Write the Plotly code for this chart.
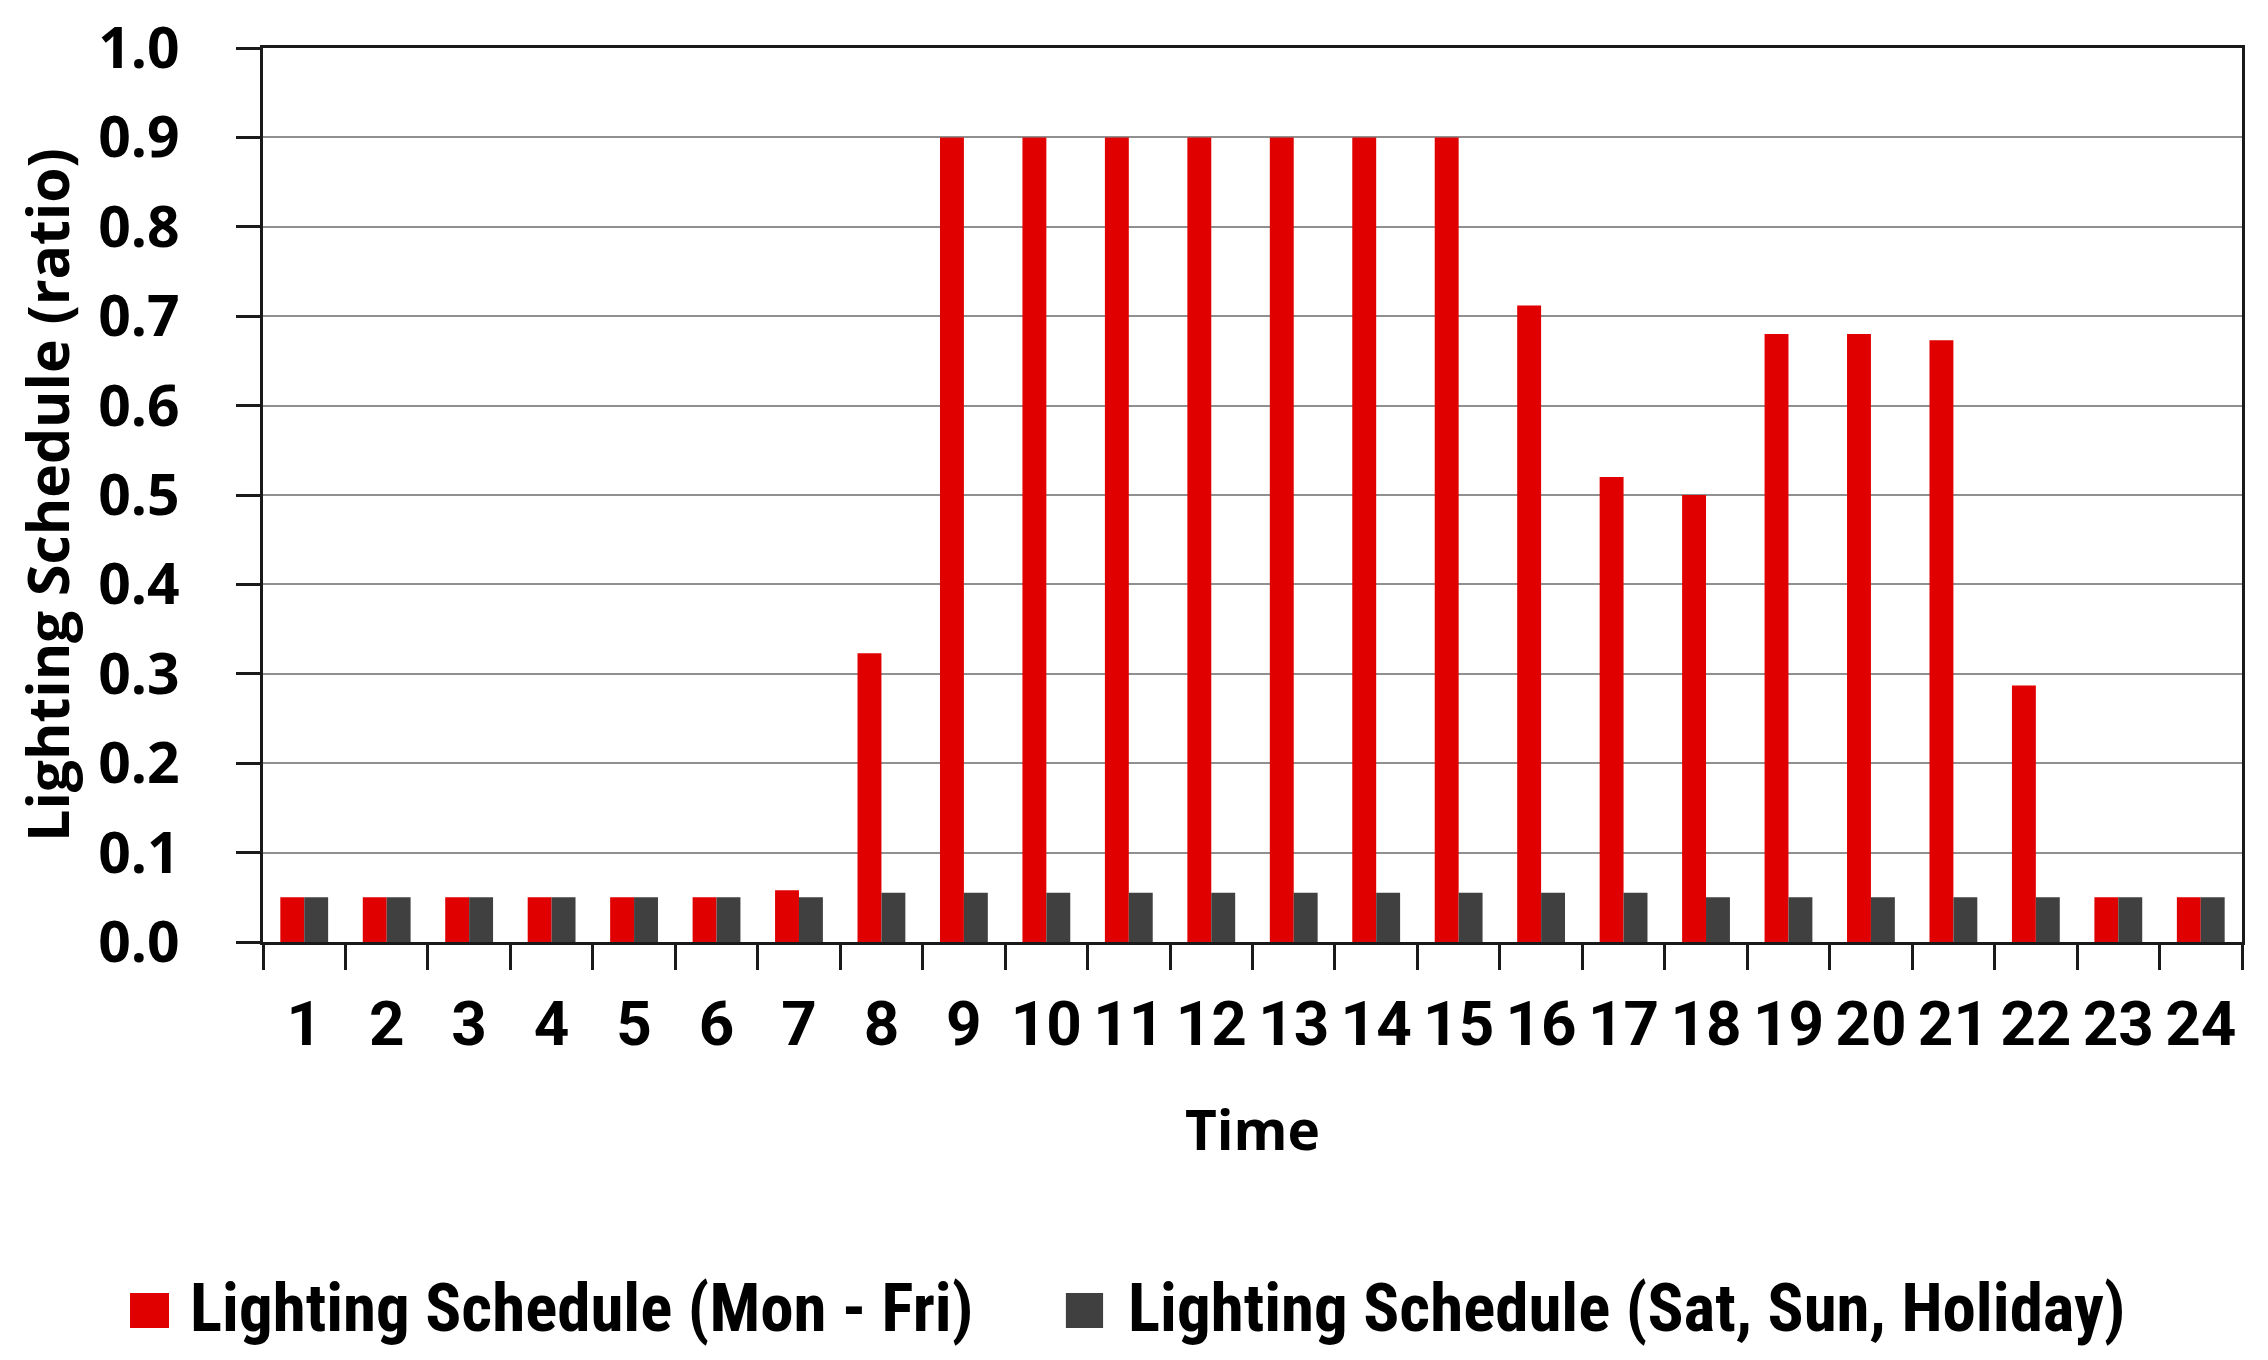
import plotly.graph_objects as go

hours = [str(h) for h in range(1, 25)]
weekday = [0.05, 0.05, 0.05, 0.05, 0.05, 0.05, 0.058, 0.323, 0.90, 0.90, 0.90, 0.90,
           0.90, 0.90, 0.90, 0.712, 0.52, 0.50, 0.68, 0.68, 0.673, 0.287, 0.05, 0.05]
weekend = [0.05, 0.05, 0.05, 0.05, 0.05, 0.05, 0.05, 0.055, 0.055, 0.055, 0.055, 0.055,
           0.055, 0.055, 0.055, 0.055, 0.055, 0.05, 0.05, 0.05, 0.05, 0.05, 0.05, 0.05]
y_ticks = [0.0, 0.1, 0.2, 0.3, 0.4, 0.5, 0.6, 0.7, 0.8, 0.9, 1.0]
y_tick_labels = [f"{v:.1f}" for v in y_ticks]

series_names = ["Lighting Schedule (Mon - Fri)", "Lighting Schedule (Sat, Sun, Holiday)"]
series_colors = ["#E00000", "#404040"]

narrow = "Roboto Condensed, Liberation Sans Narrow, Roboto, sans-serif"
roboto = "Roboto, Liberation Sans, sans-serif"
wide = "Open Sans, Noto Sans, DejaVu Sans, sans-serif"

fig = go.Figure()
for vals, nm, col in zip([weekday, weekend], series_names, series_colors):
    fig.add_trace(go.Bar(x=hours, y=vals, name=nm, marker=dict(color=col, line=dict(width=0))))

fig.update_layout(
    width=2268, height=1360,
    margin=dict(l=255, r=34, t=40, b=426, autoexpand=False),
    paper_bgcolor="white", plot_bgcolor="white",
    barmode="group", bargap=0.42, bargroupgap=0,
    showlegend=False,
)
fig.update_xaxes(
    type="category", tickson="boundaries", automargin=False,
    ticks="outside", ticklen=25, tickwidth=3, tickcolor="#1a1a1a",
    showline=True, linecolor="#1a1a1a", linewidth=3, mirror=True,
    showgrid=False,
    tickfont=dict(family=roboto, size=62, color="black", weight=700),
    ticklabelstandoff=26, ticklabeloverflow="allow",
    title=dict(text="Time", font=dict(family=wide, size=55, color="black", weight=700), standoff=53),
)
fig.update_yaxes(
    range=[0, 1.0], tickmode="array", tickvals=y_ticks, ticktext=y_tick_labels, automargin=False,
    ticks="outside", ticklen=24, tickwidth=3, tickcolor="#1a1a1a",
    showline=True, linecolor="#1a1a1a", linewidth=3, mirror=True,
    showgrid=True, gridcolor="#909090", gridwidth=2,
    zeroline=False,
    tickfont=dict(family=wide, size=57, color="black", weight=700),
    ticklabelstandoff=45, ticklabeloverflow="allow",
    title=dict(text="Lighting Schedule (ratio)", font=dict(family=wide, size=57, color="black", weight=700), standoff=24),
)

# legend keys (manual, larger squares like the original)
legend_x = [(-0.0672, -0.0475, -0.0379), (0.4057, 0.4245, 0.4361)]
for (x0, x1, xt), nm, col in zip(legend_x, series_names, series_colors):
    fig.add_shape(type="rect", xref="paper", yref="paper", x0=x0, x1=x1, y0=-0.4318, y1=-0.3926,
                  fillcolor=col, line=dict(width=0))
    fig.add_annotation(xref="paper", yref="paper", x=xt, y=-0.4094, xanchor="left", yanchor="middle",
                       text=nm, showarrow=False,
                       font=dict(family=narrow, size=67, color="black", weight=700))

fig.write_html("out.html")
